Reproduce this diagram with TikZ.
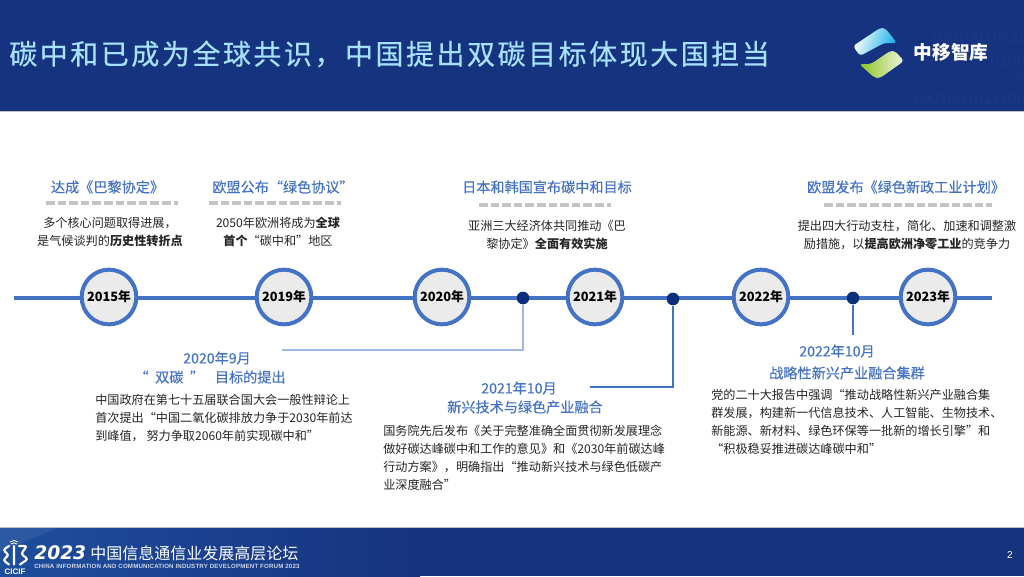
\documentclass[tikz,border=0pt]{standalone}
\usepackage{fontspec}
\setmainfont{Noto Sans CJK SC}
\newfontfamily\latinfont{Liberation Sans}
\newfontfamily\widefont{DejaVu Sans}
\usetikzlibrary{arrows.meta, positioning, calc}
\definecolor{HeadBlue}{HTML}{16337F}
\definecolor{FootBlue}{HTML}{1E4E9E}
\definecolor{TitleBlue}{HTML}{A6E1FF}
\definecolor{SpineBlue}{HTML}{4472C4}
\definecolor{DotBlue}{HTML}{0C2F7C}
\definecolor{CircleFill}{HTML}{EBEBEB}
\definecolor{DashGray}{HTML}{C4C4C4}
\definecolor{BodyGray}{HTML}{262626}
\definecolor{FaintBlue}{HTML}{1A3886}
\definecolor{LogoCyan}{HTML}{12AEE6}
\definecolor{LogoGreen}{HTML}{8DC21F}

\begin{document}
\begin{tikzpicture}[
    x=0.75pt, y=-0.75pt,
    yearnode/.style={
        circle, minimum size=41pt, inner sep=0pt, draw=SpineBlue,
        line width=3pt, fill=CircleFill, text=black,
        font=\fontsize{9.6}{11}\selectfont\bfseries
    },
    dotnode/.style={circle, minimum size=9.5pt, inner sep=0pt, fill=DotBlue},
    headnode/.style={font=\fontsize{10.6}{14}\selectfont\addfontfeature{FakeBold=0.2},
                     text=SpineBlue, inner sep=0pt, align=center},
    bodynode/.style={font=\fontsize{9.1}{13.4}\selectfont, text=BodyGray,
                     inner sep=0pt, align=#1},
    bodynode/.default={center},
    dashnode/.style={draw=DashGray, line width=2.4pt, dash pattern=on 6.5pt off 2.2pt},
    spine/.style={draw=SpineBlue, line width=2.4pt},
    link/.style={draw=#1, line width=0.9pt},
    binary/.style={font=\latinfont\fontsize{12}{12}\selectfont, text=FaintBlue,
                   inner sep=0pt, anchor=east}
]
\useasboundingbox (0,0) rectangle (1024,576);
\fill[white] (0,0) rectangle (1024,576);

% Header
\fill[HeadBlue] (0,0) rectangle (1024,111);
\draw[gray!50, line width=0.5pt] (0,111) -- (1024,111);
\begin{scope}
\clip (0,0) rectangle (1024,111);
\node[binary] (bitsA) at (1026,36) {10010010111};
\node[binary] (bitsB) at (1026,60) {0100};
\node[binary] (bitsC) at (1026,80) {0};
\node[binary] (bitsD) at (1026,99) {1001001011100};
\end{scope}
\node[font=\fontsize{21}{24}\selectfont\addfontfeature{LetterSpace=9,FakeBold=0.4}, text=TitleBlue,
      inner sep=0pt, anchor=west] (title) at (9,54)
    {碳中和已成为全球共识，中国提出双碳目标体现大国担当};

% Logo
\shade[left color=white, right color=LogoCyan, rounded corners=2.5pt, shading angle=70]
    (853,46) -- (880,28) -- (885,28) -- (897,43) -- (884,43) -- (860,56) -- cycle;
\shade[left color=LogoGreen, right color=white!85!LogoGreen, rounded corners=2.5pt]
    (859,64) -- (871,64) -- (890,51) -- (895,51) -- (904,61) -- (880,78) -- (875,78) -- cycle;
\node[font=\fontsize{14}{14}\selectfont\bfseries, text=white, inner sep=0pt] (logotext)
    at (951,52) {中移智库};

% Timeline
\coordinate (spineL) at (14,298);
\coordinate (spineR) at (992,298);
\draw[spine] (spineL) -- (spineR);

\foreach \x/\yr in {109/2015, 284/2019, 442/2020, 595/2021, 761/2022, 928/2023} {
    \node[yearnode] (y\yr) at (\x,297) {\yr 年};
}
\node[dotnode] (dotA) at (523,298) {};
\node[dotnode] (dotB) at (673,299) {};
\node[dotnode] (dotC) at (853,298) {};

% Upper events
\node[headnode] (paris) at (107.5,187) {达成《巴黎协定》};
\node[headnode] (deal) at (283,187) {欧盟公布“绿色协议”};
\node[headnode] (japan) at (547,187) {日本和韩国宣布碳中和目标};
\node[headnode] (green) at (906,187) {欧盟发布《绿色新政工业计划》};

\coordinate (dashA) at (46,203);
\coordinate (dashB) at (209,203);
\coordinate (dashC) at (479,205);
\coordinate (dashD) at (824,205);
\draw[dashnode] (dashA) -- ++(132,0);
\draw[dashnode] (dashB) -- ++(132,0);
\draw[dashnode] (dashC) -- ++(132,0);
\draw[dashnode] (dashD) -- ++(168,0);

\node[bodynode] (parisText) at (110,232)
    {多个核心问题取得进展，\\是气候谈判的\textbf{历史性转折点}};
\node[bodynode] (dealText) at (278,232)
    {2050年欧洲将成为\textbf{全球}\\\textbf{首个}“碳中和”地区};
\node[bodynode] (japanText) at (547,235)
    {亚洲三大经济体共同推动《巴\\黎协定》\textbf{全面有效实施}};
\node[bodynode] (greenText) at (907,235)
    {提出四大行动支柱，简化、加速和调整激\\励措施，以\textbf{提高欧洲净零工业}的竞争力};

% Lower events
\node[headnode] (dateA) at (217,358) {2020年9月};
\node[headnode] (headA) at (210,377) {“\hspace{5pt}双碳\hspace{5pt}”\hspace{8pt}目标的提出};
\node[bodynode=left, anchor=north west] (textA) at (95,394)
    {中国政府在第七十五届联合国大会一般性辩论上\\首次提出“中国二氧化碳排放力争于2030年前达\\到峰值， 努力争取2060年前实现碳中和”};

\node[headnode] (dateB) at (519,388) {2021年10月};
\node[headnode] (headB) at (525,407) {新兴技术与绿色产业融合};
\node[bodynode=left, anchor=north west] (textB) at (383,425)
    {国务院先后发布《关于完整准确全面贯彻新发展理念\\做好碳达峰碳中和工作的意见》和《2030年前碳达峰\\行动方案》，明确指出“推动新兴技术与绿色低碳产\\业深度融合”};

\node[headnode] (dateC) at (837,351) {2022年10月};
\node[headnode] (headC) at (847,373) {战略性新兴产业融合集群};
\node[bodynode=left, anchor=north west] (textC) at (711,389)
    {党的二十大报告中强调“推动战略性新兴产业融合集\\群发展，构建新一代信息技术、人工智能、生物技术、\\新能源、新材料、绿色环保等一批新的增长引擎”和\\ “积极稳妥推进碳达峰碳中和”};

% Links
\coordinate (endA) at (282,350);
\coordinate (endB) at (590,387);
\coordinate (endC) at (853,335);
\draw[link=SpineBlue!50!white] (dotA) |- (endA);
\draw[link=SpineBlue] (dotB) |- (endB);
\draw[link=SpineBlue] (dotC) -- (endC);

% Footer
\begin{scope}
\clip (0,527) rectangle (1024,576);
\fill[HeadBlue] (0,527) rectangle (1024,576);
\shade[left color=FootBlue, right color=HeadBlue] (-1,525) rectangle (420,578);
\fill[white, opacity=0.07] (0,527) -- (60,527) -- (0,552) -- cycle;
\end{scope}
\draw[gray!50, line width=0.5pt] (0,527) -- (1024,527);
\draw[white, line width=1.6pt, line cap=round, rounded corners=2pt]
    (9,546) -- (3,550) -- (9,555) -- (3,560) -- (9,564.5)
    (14,546) -- (14,564.5)
    (19,546) -- (27,546) -- (21,554) -- (28,559) -- (20,564.5);
\draw[white, line width=0.6pt] (11,544) to[bend left=40] (17,544)
    (10,542) to[bend left=40] (18,542);
\node[font=\latinfont\fontsize{6}{6}\selectfont\bfseries, text=white, inner sep=0pt] (cicif)
    at (15,572) {CICIF};
\node[font=\widefont\fontsize{14}{14}\selectfont\bfseries\itshape, text=white,
      inner sep=0pt, anchor=west] (forumYear) at (34,553) {2023};
\node[font=\fontsize{12}{12}\selectfont, text=white, inner sep=0pt, anchor=west] (forumName)
    at (90,553) {中国信息通信业发展高层论坛};
\node[font=\latinfont\fontsize{4.6}{5}\selectfont\bfseries\addfontfeature{LetterSpace=3},
      text=white!80!HeadBlue, inner sep=0pt, anchor=west] (forumEn)
    at (34,566) {CHINA INFORMATION AND COMMUNICATION INDUSTRY DEVELOPMENT FORUM 2023};
\node[font=\latinfont\fontsize{7.5}{8}\selectfont, text=white, inner sep=0pt] (pageNo)
    at (1010,555) {2};

\end{tikzpicture}
\end{document}
